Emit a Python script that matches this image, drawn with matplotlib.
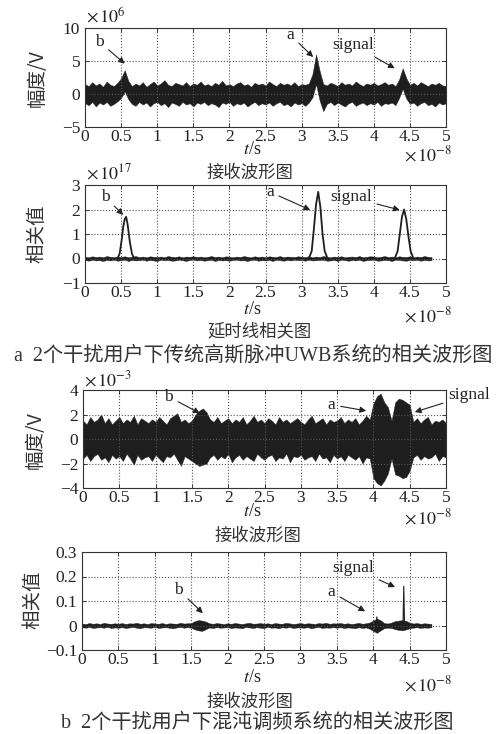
import numpy as np
import matplotlib
matplotlib.use('Agg')
import matplotlib.pyplot as plt

plt.rcParams['font.family'] = ['Liberation Serif', 'Noto Sans CJK SC']
plt.rcParams['mathtext.fontset'] = 'stix'
plt.rcParams['axes.unicode_minus'] = True

W, H = 501, 734
CJK = ['Noto Sans CJK SC', 'DejaVu Sans']
MIX = ['Liberation Serif', 'Noto Sans CJK SC']

# ---- data ----
# time grids (x 1e-8 s)
t_full = np.round(np.arange(0, 5.0001, 0.05), 2)   # 0 .. 5
t_corr = np.round(np.arange(0, 4.8001, 0.05), 2)   # 0 .. 4.8

# panel a1: received waveform, envelope (x 1e6 V)
rx1_hi = [1.5, 1.2, 1.8, 1.3, 1.6, 1.1, 1.9, 1.4, 1.2, 1.7,
          2.4, 3.6, 2.0, 1.2, 1.6, 1.3, 1.8, 1.1, 1.5, 1.9,
          1.3, 1.6, 2.1, 1.4, 1.2, 1.7, 1.5, 1.3, 1.8, 1.2,
          1.6, 1.4, 1.9, 1.3, 1.5, 1.2, 1.7, 1.4, 2.0, 1.3,
          1.5, 1.2, 1.6, 1.8, 1.3, 1.5, 1.1, 1.7, 1.4, 1.6,
          1.3, 1.9, 1.5, 1.2, 1.7, 1.4, 1.6, 1.3, 1.8, 1.2,
          1.5, 1.4, 1.6, 3.0, 6.0, 3.5, 1.5, 1.3, 1.7, 1.5,
          1.2, 1.8, 1.4, 1.6, 1.3, 1.9, 1.5, 1.2, 1.6, 1.4,
          1.7, 1.3, 1.5, 1.8, 1.4, 1.6, 1.2, 2.2, 3.9, 2.4,
          1.4, 1.7, 1.3, 1.8, 1.5, 1.2, 1.6, 1.4, 1.7, 1.3,
          1.2]
rx1_lo = [-1.4, -1.7, -1.2, -1.9, -1.3, -1.6, -1.2, -1.8, -1.5, -1.1,
          -0.6, 0.4, -0.8, -1.5, -1.8, -1.2, -1.6, -1.3, -1.9, -1.4,
          -1.2, -1.7, -1.4, -2.0, -1.3, -1.5, -1.8, -1.2, -1.6, -1.4,
          -1.9, -1.3, -1.5, -1.2, -1.7, -1.4, -1.6, -2.0, -1.3, -1.5,
          -1.2, -1.8, -1.4, -1.6, -1.3, -1.9, -1.5, -1.2, -1.7, -1.4,
          -1.6, -1.3, -1.8, -1.4, -1.2, -1.7, -1.5, -1.9, -1.3, -1.6,
          -1.4, -1.8, -1.3, -0.5, 1.5, -1.0, -2.6, -1.5, -1.2, -1.7,
          -1.3, -1.6, -1.9, -1.4, -1.2, -1.8, -1.5, -1.3, -1.7, -1.4,
          -1.6, -1.2, -1.8, -1.4, -1.5, -1.3, -1.7, -0.6, 0.8, -0.7,
          -1.5, -1.3, -1.8, -1.4, -1.2, -1.7, -1.5, -1.9, -1.3, -1.6,
          -1.4]

# panel a2: delay-line correlation (x 1e17), noise floor + three pulses
corr1_hi = [0.07, 0.05, 0.09, 0.06, 0.08, 0.05, 0.10, 0.07, 0.06, 0.08,
            0.06, 0.09, 0.05, 0.07, 0.10, 0.06, 0.08, 0.05, 0.09, 0.07,
            0.06, 0.08, 0.05, 0.10, 0.07, 0.06, 0.09, 0.05, 0.08, 0.07,
            0.09, 0.06, 0.08, 0.05, 0.07, 0.10, 0.06, 0.08, 0.05, 0.09,
            0.07, 0.05, 0.08, 0.06, 0.10, 0.07, 0.05, 0.09, 0.06, 0.08,
            0.05, 0.09, 0.07, 0.06, 0.10, 0.05, 0.08, 0.07, 0.06, 0.09,
            0.07, 0.06, 0.09, 0.05, 0.08, 0.06, 0.10, 0.07, 0.05, 0.08,
            0.06, 0.09, 0.05, 0.07, 0.08, 0.06, 0.10, 0.05, 0.07, 0.09,
            0.08, 0.05, 0.07, 0.10, 0.06, 0.08, 0.05, 0.09, 0.07, 0.06,
            0.09, 0.05, 0.08, 0.06, 0.10, 0.07, 0.06]
corr1_lo = [-0.06, -0.09, -0.05, -0.08, -0.07, -0.10, -0.06, -0.08, -0.05, -0.09,
            -0.07, -0.05, -0.10, -0.06, -0.08, -0.07, -0.05, -0.09, -0.06, -0.08,
            -0.10, -0.05, -0.07, -0.06, -0.09, -0.08, -0.05, -0.07, -0.10, -0.06,
            -0.05, -0.08, -0.06, -0.09, -0.07, -0.05, -0.10, -0.06, -0.08, -0.07,
            -0.09, -0.06, -0.05, -0.08, -0.07, -0.10, -0.06, -0.05, -0.09, -0.07,
            -0.08, -0.06, -0.10, -0.05, -0.07, -0.09, -0.06, -0.08, -0.05, -0.07,
            -0.06, -0.09, -0.05, -0.08, -0.07, -0.06, -0.05, -0.09, -0.08, -0.06,
            -0.10, -0.05, -0.07, -0.09, -0.06, -0.08, -0.05, -0.10, -0.07, -0.06,
            -0.05, -0.09, -0.08, -0.06, -0.07, -0.10, -0.05, -0.06, -0.08, -0.09,
            -0.06, -0.07, -0.05, -0.09, -0.06, -0.08, -0.07]
pulse_b_t = [0.45, 0.48, 0.51, 0.53, 0.55, 0.57, 0.59, 0.62, 0.65, 0.68]
pulse_b_v = [0.0, 0.2, 0.8, 1.3, 1.6, 1.7, 1.4, 0.7, 0.2, 0.0]
pulse_a_t = [3.10, 3.14, 3.17, 3.20, 3.23, 3.26, 3.29, 3.32, 3.36]
pulse_a_v = [0.0, 0.3, 1.2, 2.2, 2.72, 2.1, 1.0, 0.3, 0.0]
pulse_s_t = [4.29, 4.33, 4.36, 4.39, 4.42, 4.45, 4.48, 4.51, 4.55]
pulse_s_v = [0.0, 0.3, 1.0, 1.7, 2.0, 1.6, 0.9, 0.3, 0.0]

# panel b1: chaotic FM received waveform, envelope (x 1e-3 V)
rx2_hi = [1.5, 1.2, 1.8, 1.4, 1.6, 2.0, 1.3, 1.7, 1.2, 1.5,
          1.8, 1.3, 1.6, 1.4, 1.9, 1.2, 1.7, 1.5, 1.3, 1.6,
          1.4, 1.8, 1.5, 1.2, 1.7, 1.9, 2.1, 1.4, 1.6, 1.3,
          1.5, 2.0, 2.3, 2.5, 2.2, 1.6, 1.4, 1.8, 1.3, 1.5,
          1.7, 1.3, 1.6, 1.4, 1.8, 1.2, 1.5, 1.9, 1.4, 1.6,
          1.3, 1.7, 1.5, 1.2, 1.8, 1.4, 1.6, 1.3, 1.5, 1.7,
          1.4, 1.2, 1.6, 1.9, 1.3, 1.5, 1.7, 1.2, 1.6, 1.4,
          1.5, 1.8, 1.3, 1.6, 1.4, 1.7, 1.2, 1.5, 1.9, 1.6,
          2.9, 3.5, 3.7, 3.0, 2.6, 1.5, 3.0, 3.3, 3.2, 3.0,
          2.8, 1.4, 1.7, 1.3, 1.6, 1.8, 1.2, 1.5, 1.4, 1.6,
          1.3]
rx2_lo = [-1.6, -1.3, -1.8, -1.4, -1.2, -1.7, -1.5, -1.9, -1.3, -1.6,
          -1.4, -1.8, -1.2, -1.6, -2.1, -1.3, -1.7, -1.5, -1.4, -1.8,
          -1.3, -1.6, -1.9, -1.4, -1.5, -1.2, -1.7, -2.2, -1.4, -1.6,
          -1.8, -2.0, -2.2, -2.1, -2.0, -1.5, -1.3, -1.7, -1.4, -1.6,
          -1.2, -1.9, -1.5, -1.3, -1.7, -1.4, -1.6, -1.8, -1.2, -1.5,
          -1.7, -1.4, -1.3, -1.8, -1.5, -1.6, -1.2, -1.9, -1.4, -1.5,
          -1.3, -1.7, -1.5, -1.4, -1.8, -1.2, -1.6, -1.5, -1.9, -1.3,
          -1.6, -1.4, -1.8, -1.3, -1.5, -1.7, -1.4, -2.0, -1.5, -1.6,
          -3.2, -3.6, -3.8, -3.4, -2.8, -1.6, -2.9, -3.0, -3.2, -3.1,
          -2.6, -1.5, -1.3, -1.7, -1.4, -1.6, -1.5, -1.2, -1.8, -1.4,
          -1.5]

# panel b2: chaotic FM correlation
corr2_hi = [.008, .006, .010, .007, .009, .006, .011, .008, .007, .009,
            .007, .010, .006, .009, .008, .011, .007, .009, .006, .010,
            .008, .007, .010, .006, .009, .008, .007, .011, .008, .009,
            .010, .018, .022, .020, .016, .009, .007, .010, .008, .006,
            .009, .007, .010, .008, .006, .009, .011, .007, .008, .010,
            .007, .009, .006, .010, .008, .007, .011, .009, .006, .008,
            .010, .007, .009, .008, .006, .010, .008, .011, .007, .009,
            .008, .010, .007, .009, .006, .008, .011, .007, .009, .012,
            .020, .028, .022, .010, .008, .012, .018, .020, .022, .019,
            .012, .008, .010, .007, .009, .008, .006]
corr2_lo = [-.007, -.009, -.006, -.010, -.008, -.007, -.009, -.006, -.010, -.008,
            -.009, -.007, -.010, -.008, -.006, -.009, -.011, -.007, -.008, -.009,
            -.006, -.010, -.008, -.007, -.009, -.011, -.008, -.006, -.009, -.007,
            -.009, -.016, -.020, -.022, -.015, -.008, -.010, -.007, -.009, -.008,
            -.007, -.010, -.008, -.009, -.011, -.006, -.008, -.010, -.007, -.009,
            -.010, -.006, -.009, -.008, -.011, -.007, -.009, -.006, -.010, -.008,
            -.008, -.009, -.007, -.011, -.008, -.006, -.010, -.008, -.009, -.007,
            -.009, -.007, -.010, -.008, -.009, -.011, -.007, -.010, -.008, -.013,
            -.022, -.030, -.020, -.011, -.009, -.010, -.015, -.018, -.020, -.016,
            -.011, -.009, -.007, -.010, -.008, -.009, -.007]
spike_a_t = [4.04, 4.05, 4.06]
spike_a_v = [0.01, 0.035, 0.01]
spike_s_t = [4.41, 4.42, 4.43]
spike_s_v = [0.01, 0.16, 0.01]

xticks = [0, 0.5, 1, 1.5, 2, 2.5, 3, 3.5, 4, 4.5, 5]
xticklabels = ['0', '0.5', '1', '1.5', '2', '2.5', '3', '3.5', '4', '4.5', '5']

# ---- figure ----
fig = plt.figure(figsize=(W / 100, H / 100), dpi=100)
fig.patch.set_facecolor('white')


def px_axes(left, right, top, bottom):
    return fig.add_axes([left / W, 1 - bottom / H, (right - left) / W, (bottom - top) / H])


def ftext(x, y, s, **kw):
    fig.text(x / W, 1 - y / H, s, **kw)


def style(ax, ylim, yticks, yticklabels):
    ax.set_xlim(0, 5)
    ax.set_ylim(*ylim)
    ax.set_xticks(xticks)
    ax.set_xticklabels(xticklabels)
    ax.set_yticks(yticks)
    ax.set_yticklabels(yticklabels)
    ax.tick_params(direction='in', length=3, width=0.6, labelsize=12.5, pad=1.5,
                   top=True, right=True, colors='#222222')
    ax.tick_params(axis='y', pad=3.5)
    ax.grid(True, linestyle=':', linewidth=0.8, color='#555555')
    for sp in ax.spines.values():
        sp.set_linewidth(0.8)
        sp.set_color('#333333')


def mark(ax, label, xy, xytext, ha='center'):
    ax.annotate(label, xy=xy, xytext=xytext, fontsize=12.5, ha=ha, va='center',
                color='#222222', annotation_clip=False,
                arrowprops=dict(arrowstyle='-|>', lw=0.8, color='#222222',
                                shrinkA=2, shrinkB=0, mutation_scale=9))


ink = '#1e1e1e'

# panel a1
ax1 = px_axes(85, 446, 28, 127)
ax1.fill_between(t_full, rx1_lo, rx1_hi, color=ink, lw=0.3)
style(ax1, (-5, 10), [-5, 0, 5, 10], ['\u22125', '0', '5', '10'])
mark(ax1, 'b', (0.55, 4.6), (0.2, 7.9))
mark(ax1, 'a', (3.16, 5.6), (2.84, 9.0))
mark(ax1, 'signal', (4.29, 3.9), (3.72, 7.4))

# panel a2
ax2 = px_axes(85, 446, 185, 283)
ax2.fill_between(t_corr, corr1_lo, corr1_hi, color=ink, lw=0.3)
for pt, pv in [(pulse_b_t, pulse_b_v), (pulse_a_t, pulse_a_v), (pulse_s_t, pulse_s_v)]:
    ax2.plot(pt, pv, color=ink, lw=1.3)
style(ax2, (-1, 3), [-1, 0, 1, 2, 3], ['\u22121', '0', '1', '2', '3'])
mark(ax2, 'b', (0.53, 1.78), (0.28, 2.5))
mark(ax2, 'a', (3.12, 1.98), (2.56, 2.72))
mark(ax2, 'signal', (4.36, 1.98), (3.68, 2.5))

# panel b1
ax3 = px_axes(83, 446, 390, 488)
ax3.fill_between(t_full, rx2_lo, rx2_hi, color=ink, lw=0.3)
style(ax3, (-4, 4), [-4, -2, 0, 2, 4], ['\u22124', '\u22122', '0', '2', '4'])
mark(ax3, 'b', (1.61, 2.1), (1.18, 3.45))
mark(ax3, 'a', (3.9, 2.3), (3.42, 2.8))
mark(ax3, 'signal', (4.57, 2.2), (5.32, 3.6))

# panel b2
ax4 = px_axes(82, 446, 552, 650)
ax4.fill_between(t_corr, corr2_lo, corr2_hi, color=ink, lw=0.3)
ax4.plot(spike_a_t, spike_a_v, color=ink, lw=0.8)
ax4.plot(spike_s_t, spike_s_v, color=ink, lw=0.8)
style(ax4, (-0.1, 0.3), [-0.1, 0, 0.1, 0.2, 0.3], ['\u22120.1', '0', '0.1', '0.2', '0.3'])
mark(ax4, 'b', (1.66, 0.05), (1.33, 0.145))
mark(ax4, 'a', (3.89, 0.058), (3.42, 0.137))
mark(ax4, 'signal', (4.3, 0.157), (3.72, 0.235))

# scale factors, axis names, captions
sz = 13
ftext(86, 16, r'$\times\,10^{6}$', fontsize=sz, va='center', color='#222222')
ftext(86, 173, r'$\times\,10^{17}$', fontsize=sz, va='center', color='#222222')
ftext(84, 380, r'$\times\,10^{-3}$', fontsize=sz, va='center', color='#222222')
for ybot in (155, 316, 518, 685):
    ftext(452, ybot, r'$\times\,10^{-8}$', fontsize=sz, ha='right', va='center', color='#222222')
for yts in (149, 309, 512, 678):
    ftext(252, yts, r'$t$/s', fontsize=sz, ha='center', va='center', color='#222222')

sub = 12.5
ftext(250, 173, '接收波形图', family=CJK, fontsize=sub, ha='center', va='center', color='#333333')
ftext(260, 331, '延时线相关图', family=CJK, fontsize=sub, ha='center', va='center', color='#333333')
ftext(253, 356, 'a  2个干扰用户下传统高斯脉冲UWB系统的相关波形图', family=MIX, fontsize=14.5,
      ha='center', va='center', color='#333333')
ftext(258, 536, '接收波形图', family=CJK, fontsize=sub, ha='center', va='center', color='#333333')
ftext(250, 702, '接收波形图', family=CJK, fontsize=sub, ha='center', va='center', color='#333333')
ftext(257, 723, 'b  2个干扰用户下混沌调频系统的相关波形图', family=MIX, fontsize=14.5,
      ha='center', va='center', color='#333333')

yl = 14
ftext(37, 78, '幅度/V', family=CJK, fontsize=yl, rotation=90, ha='center', va='center', color='#333333')
ftext(37, 234, '相关值', family=CJK, fontsize=yl, rotation=90, ha='center', va='center', color='#333333')
ftext(35, 440, '幅度/V', family=CJK, fontsize=yl, rotation=90, ha='center', va='center', color='#333333')
ftext(33, 600, '相关值', family=CJK, fontsize=yl, rotation=90, ha='center', va='center', color='#333333')

fig.savefig('out.png', dpi=100, facecolor='white')
